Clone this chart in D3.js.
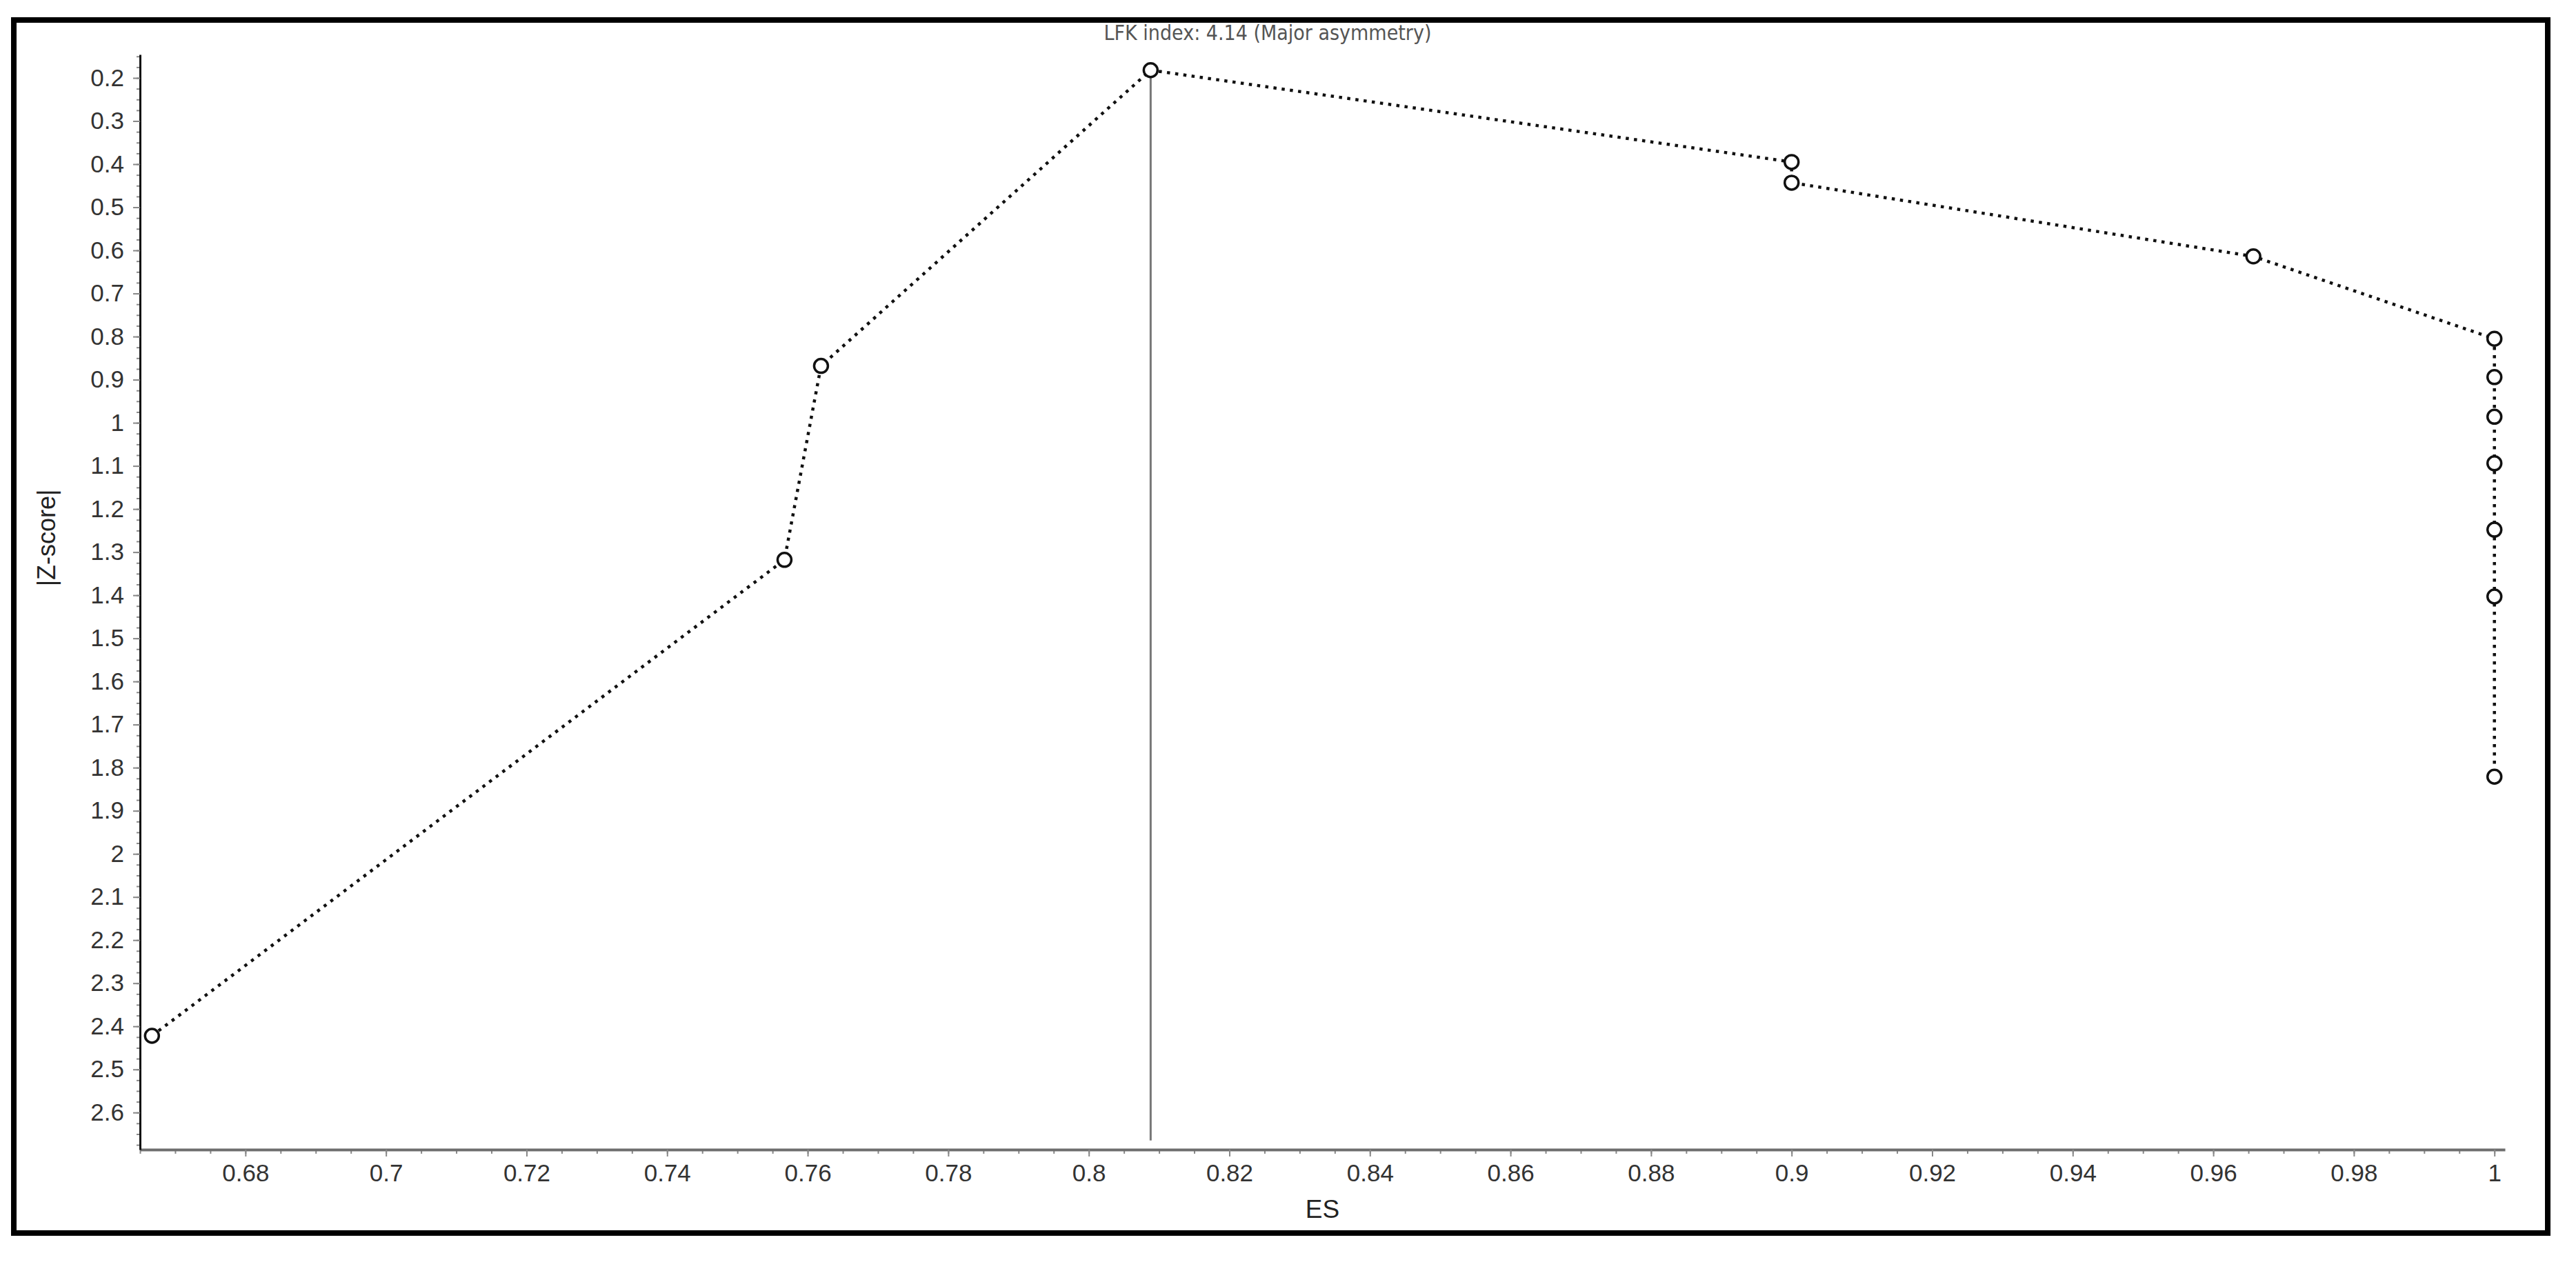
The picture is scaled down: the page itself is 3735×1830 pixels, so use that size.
<!DOCTYPE html>
<html>
<head>
<meta charset="utf-8">
<script src="https://cdn.jsdelivr.net/npm/d3@7"></script>
<style>
  body { margin: 0; background: #fff; }
  svg text { font-family: "Liberation Sans", Arial, sans-serif; }
</style>
</head>
<body>
<div id="visualization"></div>
<script>
// Doi plot values
var es = [0.6667, 0.7567, 0.7619, 0.8088, 0.900, 0.900, 0.9657, 1.0, 1.0, 1.0, 1.0, 1.0, 1.0, 1.0];
var zScore = [2.422, 1.318, 0.868, 0.182, 0.395, 0.443, 0.614, 0.805, 0.894, 0.986, 1.094, 1.248, 1.403, 1.821];

var xTicks = [0.68, 0.70, 0.72, 0.74, 0.76, 0.78, 0.80, 0.82, 0.84, 0.86, 0.88, 0.90, 0.92, 0.94, 0.96, 0.98, 1.00];
var yTicks = [0.2, 0.3, 0.4, 0.5, 0.6, 0.7, 0.8, 0.9, 1.0, 1.1, 1.2, 1.3, 1.4, 1.5, 1.6, 1.7, 1.8, 1.9, 2.0, 2.1, 2.2, 2.3, 2.4, 2.5, 2.6];

var xDomain = [0.665, 1.0015];
var yDomain = [0.1456, 2.686];

// vertical reference line at the most precise study
var refLine = { es: 0.8088, z0: 0.182, z1: 2.665 };

var title = "LFK index: 4.14 (Major asymmetry)";
var xLabel = "ES";
var yLabel = "|Z-score|";

//////////////////////////////////////////////////////////////////////////////

var width = 3735;
var height = 1830;
var plot = { left: 203, right: 3632, top: 79, bottom: 1667 };

var svg = d3.select("#visualization").append("svg")
  .attr("width", width)
  .attr("height", height);

svg.append("rect")
  .attr("width", width)
  .attr("height", height)
  .attr("fill", "#fff");

// outer frame
svg.append("rect")
  .attr("x", 20)
  .attr("y", 29)
  .attr("width", 3674)
  .attr("height", 1759)
  .attr("fill", "none")
  .attr("stroke", "#000")
  .attr("stroke-width", 8);

var xScale = d3.scaleLinear()
  .domain(xDomain)
  .range([plot.left, plot.right]);

var yScale = d3.scaleLinear()
  .domain(yDomain)
  .range([plot.top, plot.bottom]);

function fmt(d) {
  return String(+d.toFixed(3));
}

//////////////////////////////////////////////////////////////////////////////

// minor ticks
var xMinor = d3.range(0.665, 1.0016, 0.005).map(function(d) { return +d.toFixed(3); });
var yMinor = d3.range(0.15, 2.686, 0.025).map(function(d) { return +d.toFixed(3); });

svg.append("g")
  .attr("class", "minor")
  .attr("transform", "translate(0," + plot.bottom + ")")
  .call(d3.axisBottom(xScale).tickValues(xMinor).tickSize(6).tickFormat(""));

svg.append("g")
  .attr("class", "minor")
  .attr("transform", "translate(" + plot.left + ",0)")
  .call(d3.axisLeft(yScale).tickValues(yMinor).tickSize(5).tickFormat(""));

svg.selectAll(".minor .domain").remove();

// major ticks
var xAxis = svg.append("g")
  .attr("transform", "translate(0," + plot.bottom + ")")
  .call(d3.axisBottom(xScale).tickValues(xTicks).tickSize(10).tickSizeOuter(0).tickPadding(11).tickFormat(fmt));

var yAxis = svg.append("g")
  .attr("transform", "translate(" + plot.left + ",0)")
  .call(d3.axisLeft(yScale).tickValues(yTicks).tickSize(10).tickSizeOuter(0).tickPadding(13).tickFormat(fmt));

svg.selectAll(".tick line").attr("stroke", "#888").attr("stroke-width", 2);

xAxis.select(".domain").attr("stroke", "#6e6e6e").attr("stroke-width", 4);
yAxis.select(".domain").attr("stroke", "#111").attr("stroke-width", 3);

svg.selectAll(".tick text")
  .attr("fill", "#333")
  .style("font-size", "35px")
  .style("font-family", "'Liberation Sans', Arial, sans-serif");

// axis titles
svg.append("text")
  .attr("x", (plot.left + plot.right) / 2)
  .attr("y", 1766)
  .attr("text-anchor", "middle")
  .attr("fill", "#222")
  .style("font-size", "37px")
  .text(xLabel);

svg.append("text")
  .attr("transform", "translate(80,780) rotate(-90)")
  .attr("text-anchor", "middle")
  .attr("fill", "#222")
  .style("font-size", "36px")
  .text(yLabel);

svg.append("text")
  .attr("x", 1838)
  .attr("y", 58)
  .attr("text-anchor", "middle")
  .attr("fill", "#555")
  .style("font-family", "'Liberation Sans Narrow', 'Arial Narrow', 'DejaVu Sans Condensed', sans-serif")
  .style("font-size", "30px")
  .text(title);

//////////////////////////////////////////////////////////////////////////////

var points = es.map(function(d, i) { return { x: d, y: zScore[i] }; });

svg.append("line")
  .attr("x1", xScale(refLine.es))
  .attr("x2", xScale(refLine.es))
  .attr("y1", yScale(refLine.z0))
  .attr("y2", yScale(refLine.z1))
  .attr("stroke", "#777")
  .attr("stroke-width", 3);

var line = d3.line()
  .x(function(d) { return xScale(d.x); })
  .y(function(d) { return yScale(d.y); });

svg.append("path")
  .datum(points)
  .attr("d", line)
  .attr("fill", "none")
  .attr("stroke", "#111")
  .attr("stroke-width", 4.5)
  .attr("stroke-dasharray", "4.5,7.5");

svg.selectAll("circle")
  .data(points)
  .enter()
  .append("circle")
  .attr("cx", function(d) { return xScale(d.x); })
  .attr("cy", function(d) { return yScale(d.y); })
  .attr("r", 10)
  .attr("fill", "#fff")
  .attr("stroke", "#111")
  .attr("stroke-width", 3.5);
</script>
</body>
</html>
